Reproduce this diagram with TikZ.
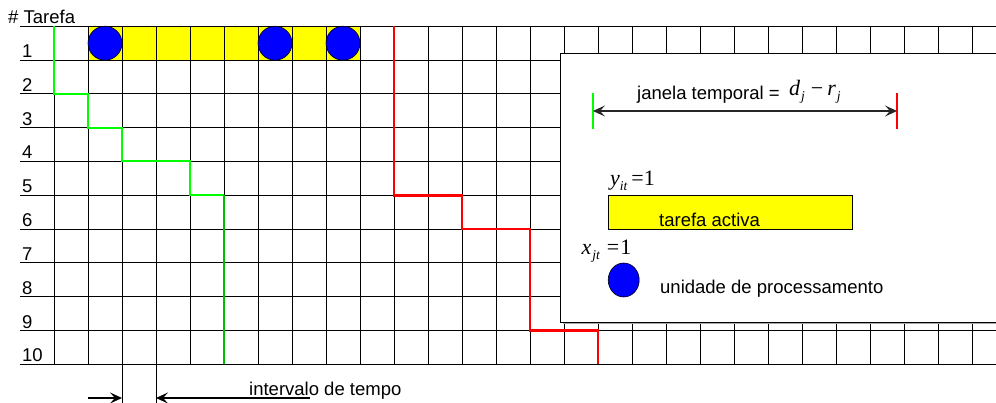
\documentclass[tikz,border=0pt]{standalone}
\usepackage{fontspec}
\setmainfont{Liberation Sans}
\newfontfamily\tms{Liberation Serif}
\usetikzlibrary{arrows.meta,shapes.geometric}
\newcommand{\sbs}[1]{\raisebox{-5pt}{\fontsize{13.5}{13.5}\selectfont\itshape #1}}
\definecolor{brgreen}{RGB}{0,255,0}
\definecolor{dkgreen}{RGB}{0,190,0}
\definecolor{brred}{RGB}{255,0,0}
\definecolor{brblue}{RGB}{0,0,255}
\definecolor{bryellow}{RGB}{255,255,0}
\begin{document}
\begin{tikzpicture}[x=1pt,y=-1pt,
  gridline/.style={draw=black, line width=0.9pt},
  lbl/.style={font=\fontsize{18.5}{22}\selectfont, inner sep=0pt, anchor=base west},
  mth/.style={font=\tms\fontsize{22}{24}\selectfont\itshape, inner sep=0pt, anchor=base west},
  procunit/.style={circle, draw=black, line width=0.6pt, fill=brblue, minimum size=34pt, inner sep=0pt},
  arr/.style={-{Stealth[length=12pt,width=11pt,inset=5pt]}, line width=1.1pt},
  darr/.style={{Stealth[length=12pt,width=11pt,inset=5pt]}-{Stealth[length=12pt,width=11pt,inset=5pt]}, line width=1.1pt, draw=black!85},
  greenpath/.style={draw=brgreen, line width=2pt},
  redpath/.style={draw=brred, line width=2.5pt}
]
\useasboundingbox (0,0) rectangle (996,403);
\clip (0,0) rectangle (996,403);
\fill[white] (0,0) rectangle (996,403);

% yellow active task row 1
\fill[bryellow] (88,26.3) rectangle (360,60.1);

% grid
\foreach \k in {0,...,10} {
  \draw[gridline] (20,{26.3+33.8*\k}) -- (996,{26.3+33.8*\k});
}
\foreach \k in {0,...,27} {
  \draw[gridline] ({54+34*\k},26.3) -- ({54+34*\k},364.3);
}
\draw[gridline] (122,364.3) -- (122,403);
\draw[gridline] (156,364.3) -- (156,403);

% row labels
\node[lbl] (title) at (8,24) {\# Tarefa};
\foreach \k in {1,...,10} {
  \node[lbl] (r\k) at (22,{26.3+33.8*\k-2.5}) {\k};
}

% processing units in row 1
\node[procunit] (p1) at (105,43.2) {};
\node[procunit] (p6) at (275,43.2) {};
\node[procunit] (p8) at (343,43.2) {};

% green path
\draw[greenpath] (54,26.3) -- (54,93.9) -- (88,93.9) -- (88,127.7) -- (122,127.7) -- (122,161.5) -- (190,161.5) -- (190,195.3) -- (224,195.3);
\draw[draw=dkgreen, line width=1.8pt] (224,195.3) -- (224,364.3);

% red path
\draw[redpath] (394,26.3) -- (394,195.3) -- (462,195.3) -- (462,229.1) -- (530,229.1) -- (530,330.5) -- (598,330.5) -- (598,364.3);

% legend box
\fill[black!35] (562.5,55.5) rectangle (1005,324.5);
\draw[fill=white, line width=0.9pt] (560.5,53) rectangle (1005,322.3);

% time window
\coordinate (wl) at (593,111);
\coordinate (wr) at (897,111);
\draw[draw=brgreen, line width=2pt] (593,93) -- (593,129);
\draw[draw=brred, line width=2pt] (897,93) -- (897,129);
\draw[darr] (wl) -- (wr);
\node[lbl] (jt) at (637,100) {janela temporal =};
\node[mth] (dr) at (789,96) {d\hspace{1pt}\sbs{j}\hspace{6pt}\upshape −\hspace{4pt}\itshape r\hspace{1pt}\sbs{j}};

% active task legend
\node[mth] (yit) at (610,186) {y\sbs{it}\hspace{4pt}\upshape =1};
\draw[fill=bryellow, line width=0.8pt] (608,195) rectangle (852,229.3);
\node[lbl] (ta) at (659,226.5) {tarefa activa};

% processing unit legend
\node[mth] (xjt) at (581.5,255) {x\hspace{1pt}\sbs{jt}\hspace{7pt}\upshape =\hspace{1pt}1};
\node[ellipse, draw=black, line width=0.6pt, fill=brblue, minimum width=31pt, minimum height=34pt, inner sep=0pt] (pu) at (623.7,280) {};
\node[lbl] (up) at (660,294) {unidade de processamento};

% time interval
\coordinate (ia) at (88,398);
\coordinate (ib) at (122,398);
\coordinate (ic) at (156,398);
\coordinate (id) at (310,398);
\draw[arr] (ia) -- (ib);
\draw[arr] (id) -- (ic);
\node[lbl] (it) at (249,395) {intervalo de tempo};
\end{tikzpicture}
\end{document}
